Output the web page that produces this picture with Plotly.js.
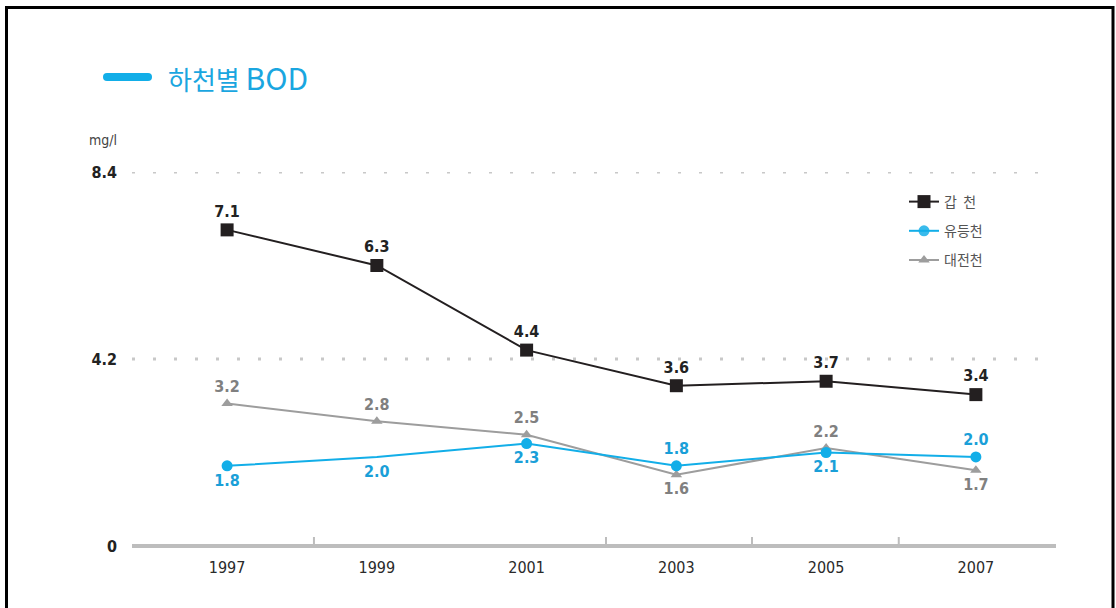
<!DOCTYPE html>
<html>
<head>
<meta charset="utf-8">
<script src="https://cdn.plot.ly/plotly-3.0.1.min.js"></script>
<style>
html,body{margin:0;padding:0;background:#fff;}
#chart{width:1116px;height:608px;}
</style>
</head>
<body>
<div id="chart"></div>
<script>
// ---- data ----
var years = [1997, 1999, 2001, 2003, 2005, 2007];
var yearLabels = ['1997', '1999', '2001', '2003', '2005', '2007'];
var gapcheon = [7.1, 6.3, 4.4, 3.6, 3.7, 3.4];      // 갑천
var yudeungcheon = [1.8, 2.0, 2.3, 1.8, 2.1, 2.0];  // 유등천
var daejeoncheon = [3.2, 2.8, 2.5, 1.6, 2.2, 1.7];  // 대전천
var seriesNames = ['갑  천', '유등천', '대전천'];
var yTicks = [0, 4.2, 8.4];
var yTickLabels = ['0', '4.2', '8.4'];
var axisTickMarks = [1998.16, 2002.06, 2004.01, 2005.97];

var numFont = 'DejaVu Sans Condensed, Liberation Sans Narrow, Roboto, sans-serif';
var krFont = 'Noto Sans CJK KR, Noto Sans, sans-serif';

function fmt(a){ return a.map(function(v){ return v.toFixed(1); }); }

var traces = [
  {
    x: years, y: daejeoncheon, name: seriesNames[2], legendrank: 3, legendgroup: 'c',
    mode: 'lines+markers+text', text: fmt(daejeoncheon),
    textposition: ['top center','top center','top center','bottom center','top center','bottom center'],
    textfont: {family: numFont, size: 16, color: '#808080', weight: 'bold'},
    line: {color: '#9d9d9d', width: 2},
    marker: {symbol: 'triangle-up', size: 10, color: '#9d9d9d'},
    cliponaxis: false, hoverinfo: 'x+y'
  },
  {
    x: years, y: yudeungcheon, name: seriesNames[1], legendrank: 2, legendgroup: 'b',
    mode: 'lines+markers+text', text: fmt(yudeungcheon),
    textposition: ['bottom center','bottom center','bottom center','top center','bottom center','top center'],
    textfont: {family: numFont, size: 16, color: '#1a9fd8', weight: 'bold'},
    line: {color: '#12aee8', width: 2},
    marker: {symbol: 'circle', size: 11, color: '#12aee8', opacity: [1,0,1,1,1,1]},
    cliponaxis: false, hoverinfo: 'x+y'
  },
  {
    x: years, y: gapcheon, name: seriesNames[0], legendrank: 1, legendgroup: 'a',
    mode: 'lines+markers+text', text: fmt(gapcheon),
    textposition: 'top center',
    textfont: {family: numFont, size: 16, color: '#222222', weight: 'bold'},
    line: {color: '#231f20', width: 2},
    marker: {symbol: 'square', size: 13, color: '#231f20'},
    cliponaxis: false, hoverinfo: 'x+y'
  }
];

// pixel helpers for decoration (plot area: x 132..1056, y 172..546)
function px(x){ return (x - 132) / 924; }
function py(y){ return (546 - y) / 374; }

var shapes = [];
// dotted grid lines
[4.2, 8.4].forEach(function(v){
  shapes.push({type:'line', xref:'paper', yref:'y', x0:0, x1:1, y0:v, y1:v,
    line:{color:'#c8c8c8', width:3, dash:'3px,18px'}, layer:'below'});
});
// bottom axis line
shapes.push({type:'line', xref:'paper', yref:'paper', x0:0, x1:1, y0:0, y1:0,
  line:{color:'#bdbdbd', width:4}, layer:'below'});
// small axis ticks
axisTickMarks.forEach(function(t){
  shapes.push({type:'line', xref:'x', yref:'paper', x0:t, x1:t, y0:0, y1:py(537),
    line:{color:'#bdbdbd', width:2}, layer:'below'});
});
// title bar (rounded)
shapes.push({type:'path', xref:'paper', yref:'paper', xsizemode:'pixel', ysizemode:'pixel',
  xanchor: px(103), yanchor: py(77),
  path: 'M 4 -4 L 45 -4 Q 49 -4 49 0 Q 49 4 45 4 L 4 4 Q 0 4 0 0 Q 0 -4 4 -4 Z',
  fillcolor:'#12aee8', line:{width:0}});
// frame
shapes.push({type:'rect', xref:'paper', yref:'paper', x0:px(6.5), x1:px(1113), y0:py(7.5), y1:py(640),
  line:{color:'#000', width:3}, fillcolor:'rgba(0,0,0,0)'});

var layout = {
  width: 1116, height: 608,
  margin: {l:132, r:60, t:172, b:62, pad:0},
  paper_bgcolor: '#fff', plot_bgcolor: '#fff',
  showlegend: true,
  legend: {x: px(904), y: py(186), xanchor:'left', yanchor:'top',
    font:{family: krFont, size: 14, color:'#555'}, bgcolor:'rgba(0,0,0,0)',
    traceorder:'grouped', tracegroupgap: 8, itemwidth: 30},
  xaxis: {type:'linear', range:[1995.73, 2008.07], tickvals: years, ticktext: yearLabels,
    showgrid:false, zeroline:false, showline:false, ticks:'', ticklabelstandoff: 10,
    tickfont:{family: numFont, size: 16, color:'#2a2a2a'}, fixedrange:true},
  yaxis: {range:[0, 8.4], tickvals: yTicks, ticktext: yTickLabels,
    showgrid:false, zeroline:false, showline:false, ticks:'', ticklabelstandoff: 14,
    tickfont:{family: numFont, size: 16, color:'#222', weight:'bold'}, fixedrange:true},
  shapes: shapes,
  annotations: [
    {xref:'paper', yref:'paper', x: px(166), y: py(77), xanchor:'left', yanchor:'middle',
     text:'하천별 <span style="font-size:30px">BOD</span>', showarrow:false,
     font:{family: krFont, size: 26, color:'#1aa6e0'}},
    {xref:'paper', yref:'paper', x: px(87), y: py(140), xanchor:'left', yanchor:'middle',
     text:'mg/l', showarrow:false, font:{family: numFont, size: 14, color:'#444'}}
  ]
};

Plotly.newPlot('chart', traces, layout, {displayModeBar:false, staticPlot:true});
</script>
</body>
</html>
